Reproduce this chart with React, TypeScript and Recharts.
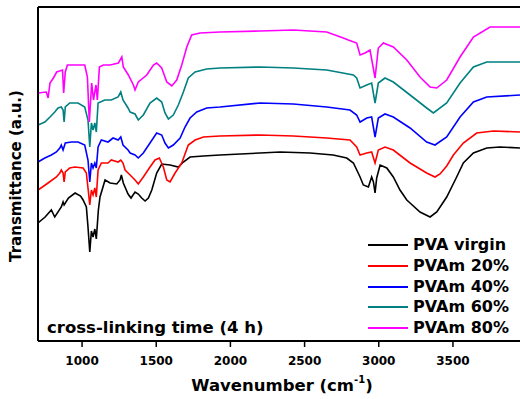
import React from "react";
import { LineChart, Line, XAxis, YAxis, ReferenceLine, Legend } from "recharts";

// Wavenumber (cm-1) / transmittance (a.u.) pairs
const PVA_VIRGIN: [number, number][] = [
  [703, 118], [751, 124], [793, 131], [816, 124], [860, 134], [872, 139], [879, 136], [908, 143],
  [953, 148], [990, 145], [1007, 141], [1029, 134], [1040, 114], [1052, 89], [1063, 110], [1074, 104],
  [1086, 112], [1096, 102], [1110, 131], [1121, 144], [1155, 161], [1189, 158], [1234, 157], [1256, 161],
  [1265, 166], [1278, 158], [1310, 147], [1330, 143], [1357, 149], [1379, 147], [1402, 143], [1425, 140],
  [1447, 143], [1470, 151], [1503, 168], [1537, 177], [1593, 176], [1649, 174], [1683, 179], [1728, 184],
  [1818, 185], [1930, 186], [2200, 188], [2335, 189], [2537, 188], [2692, 186], [2784, 183], [2829, 178],
  [2874, 164], [2896, 156], [2930, 154], [2952, 164], [2964, 159], [2975, 148], [2986, 163], [3009, 176],
  [3054, 173], [3098, 164], [3143, 151], [3189, 141], [3211, 138], [3278, 129], [3346, 124], [3391, 129],
  [3458, 144], [3525, 164], [3570, 178], [3638, 188], [3728, 193], [3817, 194], [3952, 193],
];

const PVAM_20: [number, number][] = [
  [703, 151], [771, 158], [827, 164], [850, 168], [860, 171], [872, 168], [879, 159], [887, 169],
  [917, 173], [951, 174], [1007, 173], [1029, 168], [1040, 153], [1052, 136], [1063, 151], [1074, 146],
  [1086, 153], [1096, 144], [1108, 171], [1130, 178], [1175, 178], [1197, 181], [1243, 179], [1261, 181],
  [1276, 178], [1290, 171], [1324, 166], [1357, 161], [1379, 157], [1413, 164], [1458, 174], [1492, 181],
  [1521, 183], [1548, 174], [1571, 161], [1593, 159], [1627, 168], [1672, 178], [1716, 196], [1762, 201],
  [1818, 204], [1930, 205], [2200, 206], [2424, 205], [2649, 203], [2806, 201], [2851, 194], [2874, 186],
  [2919, 188], [2952, 189], [2975, 178], [2997, 191], [3042, 194], [3098, 191], [3211, 178], [3323, 168],
  [3379, 164], [3413, 167], [3458, 175], [3503, 186], [3570, 198], [3660, 208], [3773, 210], [3952, 209],
];

const PVAM_40: [number, number][] = [
  [703, 179], [749, 183], [793, 186], [827, 189], [850, 193], [860, 196], [872, 191], [887, 198],
  [928, 199], [973, 199], [1018, 196], [1040, 181], [1052, 159], [1063, 178], [1074, 173], [1086, 178],
  [1096, 173], [1108, 194], [1130, 201], [1175, 199], [1209, 203], [1243, 201], [1261, 204], [1276, 196],
  [1310, 191], [1324, 188], [1357, 186], [1379, 183], [1413, 188], [1458, 198], [1503, 208], [1537, 206],
  [1559, 198], [1582, 193], [1615, 196], [1661, 203], [1694, 214], [1728, 223], [1773, 229], [1840, 233],
  [1930, 234], [2200, 238], [2424, 237], [2649, 234], [2806, 231], [2851, 226], [2874, 219], [2919, 223],
  [2952, 224], [2975, 204], [2997, 223], [3042, 227], [3098, 224], [3211, 213], [3323, 199], [3379, 196],
  [3458, 204], [3548, 224], [3638, 239], [3728, 244], [3952, 246],
];

const PVAM_60: [number, number][] = [
  [703, 216], [749, 219], [784, 224], [816, 229], [838, 233], [860, 234], [872, 231], [879, 219],
  [887, 234], [917, 238], [973, 238], [1018, 234], [1040, 221], [1052, 194], [1063, 218], [1074, 211],
  [1086, 218], [1096, 209], [1108, 238], [1153, 241], [1197, 241], [1243, 244], [1261, 249], [1276, 241],
  [1310, 233], [1324, 229], [1357, 227], [1379, 221], [1413, 226], [1458, 238], [1503, 243], [1537, 239],
  [1559, 228], [1582, 222], [1615, 226], [1649, 236], [1683, 249], [1716, 263], [1762, 269], [1840, 272],
  [1930, 273], [2200, 274], [2424, 273], [2649, 271], [2829, 266], [2851, 263], [2874, 253], [2919, 256],
  [2952, 258], [2975, 238], [2997, 258], [3042, 263], [3098, 259], [3211, 246], [3323, 233], [3368, 228],
  [3458, 238], [3548, 258], [3638, 274], [3728, 279], [3952, 279],
];

const PVAM_80: [number, number][] = [
  [703, 248], [759, 249], [771, 243], [784, 258], [807, 263], [829, 269], [868, 271], [876, 248],
  [887, 269], [901, 276], [1018, 276], [1036, 264], [1049, 219], [1065, 258], [1077, 241], [1094, 256],
  [1103, 241], [1117, 274], [1143, 276], [1189, 276], [1245, 278], [1268, 284], [1278, 274], [1312, 266],
  [1346, 256], [1357, 251], [1379, 259], [1436, 266], [1481, 276], [1503, 278], [1537, 273], [1571, 259],
  [1605, 255], [1638, 261], [1672, 276], [1706, 294], [1739, 306], [1795, 308], [1930, 309], [2200, 310],
  [2424, 311], [2649, 309], [2761, 303], [2795, 301], [2851, 298], [2874, 286], [2907, 288], [2941, 291],
  [2975, 263], [2997, 293], [3031, 298], [3098, 294], [3189, 281], [3278, 264], [3346, 254], [3391, 253],
  [3458, 261], [3548, 284], [3638, 304], [3750, 314], [3952, 314],
];

const SERIES_NAMES = ["PVA virgin", "PVAm 20%", "PVAm 40%", "PVAm 60%", "PVAm 80%"];
const SERIES_COLORS = ["#000000", "#ff0000", "#0000ff", "#008080", "#ff00ff"];
const SERIES_DATA = [PVA_VIRGIN, PVAM_20, PVAM_40, PVAM_60, PVAM_80];

const X_TICKS = [1000, 1500, 2000, 2500, 3000, 3500];
const X_DOMAIN: [number, number] = [703, 3952];
const Y_DOMAIN: [number, number] = [0, 334];

const FONT = "'DejaVu Sans', Verdana, sans-serif";

const toRows = (pairs: [number, number][]) => pairs.map(([w, t]) => ({ w, t }));

const renderLegend = () => (
  <div style={{ fontFamily: FONT, fontWeight: "bold", fontSize: 16, textAlign: "left" }}>
    {SERIES_NAMES.map((name, i) => (
      <div key={name} style={{ display: "flex", alignItems: "center", height: 20.7 }}>
        <div style={{ width: 40, height: 2, background: SERIES_COLORS[i], marginRight: 5, flex: "none" }} />
        <span style={{ color: "#000", lineHeight: "20px", whiteSpace: "nowrap" }}>{name}</span>
      </div>
    ))}
  </div>
);

export default function App() {
  return (
    <div style={{ position: "absolute", left: 0, top: 0, width: 520, height: 399, background: "#fff" }}>
      <LineChart width={520} height={399} margin={{ top: 7, right: 0, left: 0, bottom: 0 }}>
        <XAxis
          dataKey="w"
          type="number"
          domain={X_DOMAIN}
          ticks={X_TICKS}
          allowDataOverflow
          height={58}
          axisLine={{ stroke: "#000", strokeWidth: 2 }}
          tickLine={{ stroke: "#000", strokeWidth: 1.5 }}
          tickSize={6}
          tickMargin={9}
          tick={{ fill: "#000", fontFamily: FONT, fontWeight: "bold", fontSize: 12 }}
          label={{
            content: () => (
              <text x={282} y={385} textAnchor="middle" dominantBaseline="central"
                fontFamily={FONT} fontWeight="bold" fontSize={16.5} fill="#000">
                Wavenumber (cm<tspan dy={-6} fontSize={10}>-1</tspan><tspan dy={6}>)</tspan>
              </text>
            ),
          }}
        />
        <YAxis
          type="number"
          domain={Y_DOMAIN}
          allowDataOverflow
          width={38}
          tick={false}
          tickLine={false}
          axisLine={{ stroke: "#000", strokeWidth: 2 }}
          label={{
            content: () => (
              <text x={16} y={176} transform="rotate(-90 16 176)" textAnchor="middle" dominantBaseline="central"
                fontFamily={FONT} fontWeight="bold" fontSize={15} fill="#000">
                Transmittance (a.u.)
              </text>
            ),
          }}
        />
        <ReferenceLine y={Y_DOMAIN[1]} stroke="#000" strokeWidth={2} />
        {SERIES_DATA.map((d, i) => (
          <Line
            key={SERIES_NAMES[i]}
            data={toRows(d)}
            dataKey="t"
            name={SERIES_NAMES[i]}
            type="linear"
            stroke={SERIES_COLORS[i]}
            strokeWidth={1.6}
            dot={false}
            isAnimationActive={false}
          />
        ))}
        <Legend
          layout="horizontal"
          verticalAlign="middle"
          align="center"
          content={renderLegend}
          wrapperStyle={{ position: "absolute", left: 368, top: 235, width: 152 }}
        />
      </LineChart>
      <div
        style={{
          position: "absolute", left: 47, top: 318, fontFamily: FONT, fontWeight: "bold",
          fontSize: 16.5, color: "#000", whiteSpace: "nowrap", lineHeight: "20px",
        }}
      >
        cross-linking time (4 h)
      </div>
    </div>
  );
}
